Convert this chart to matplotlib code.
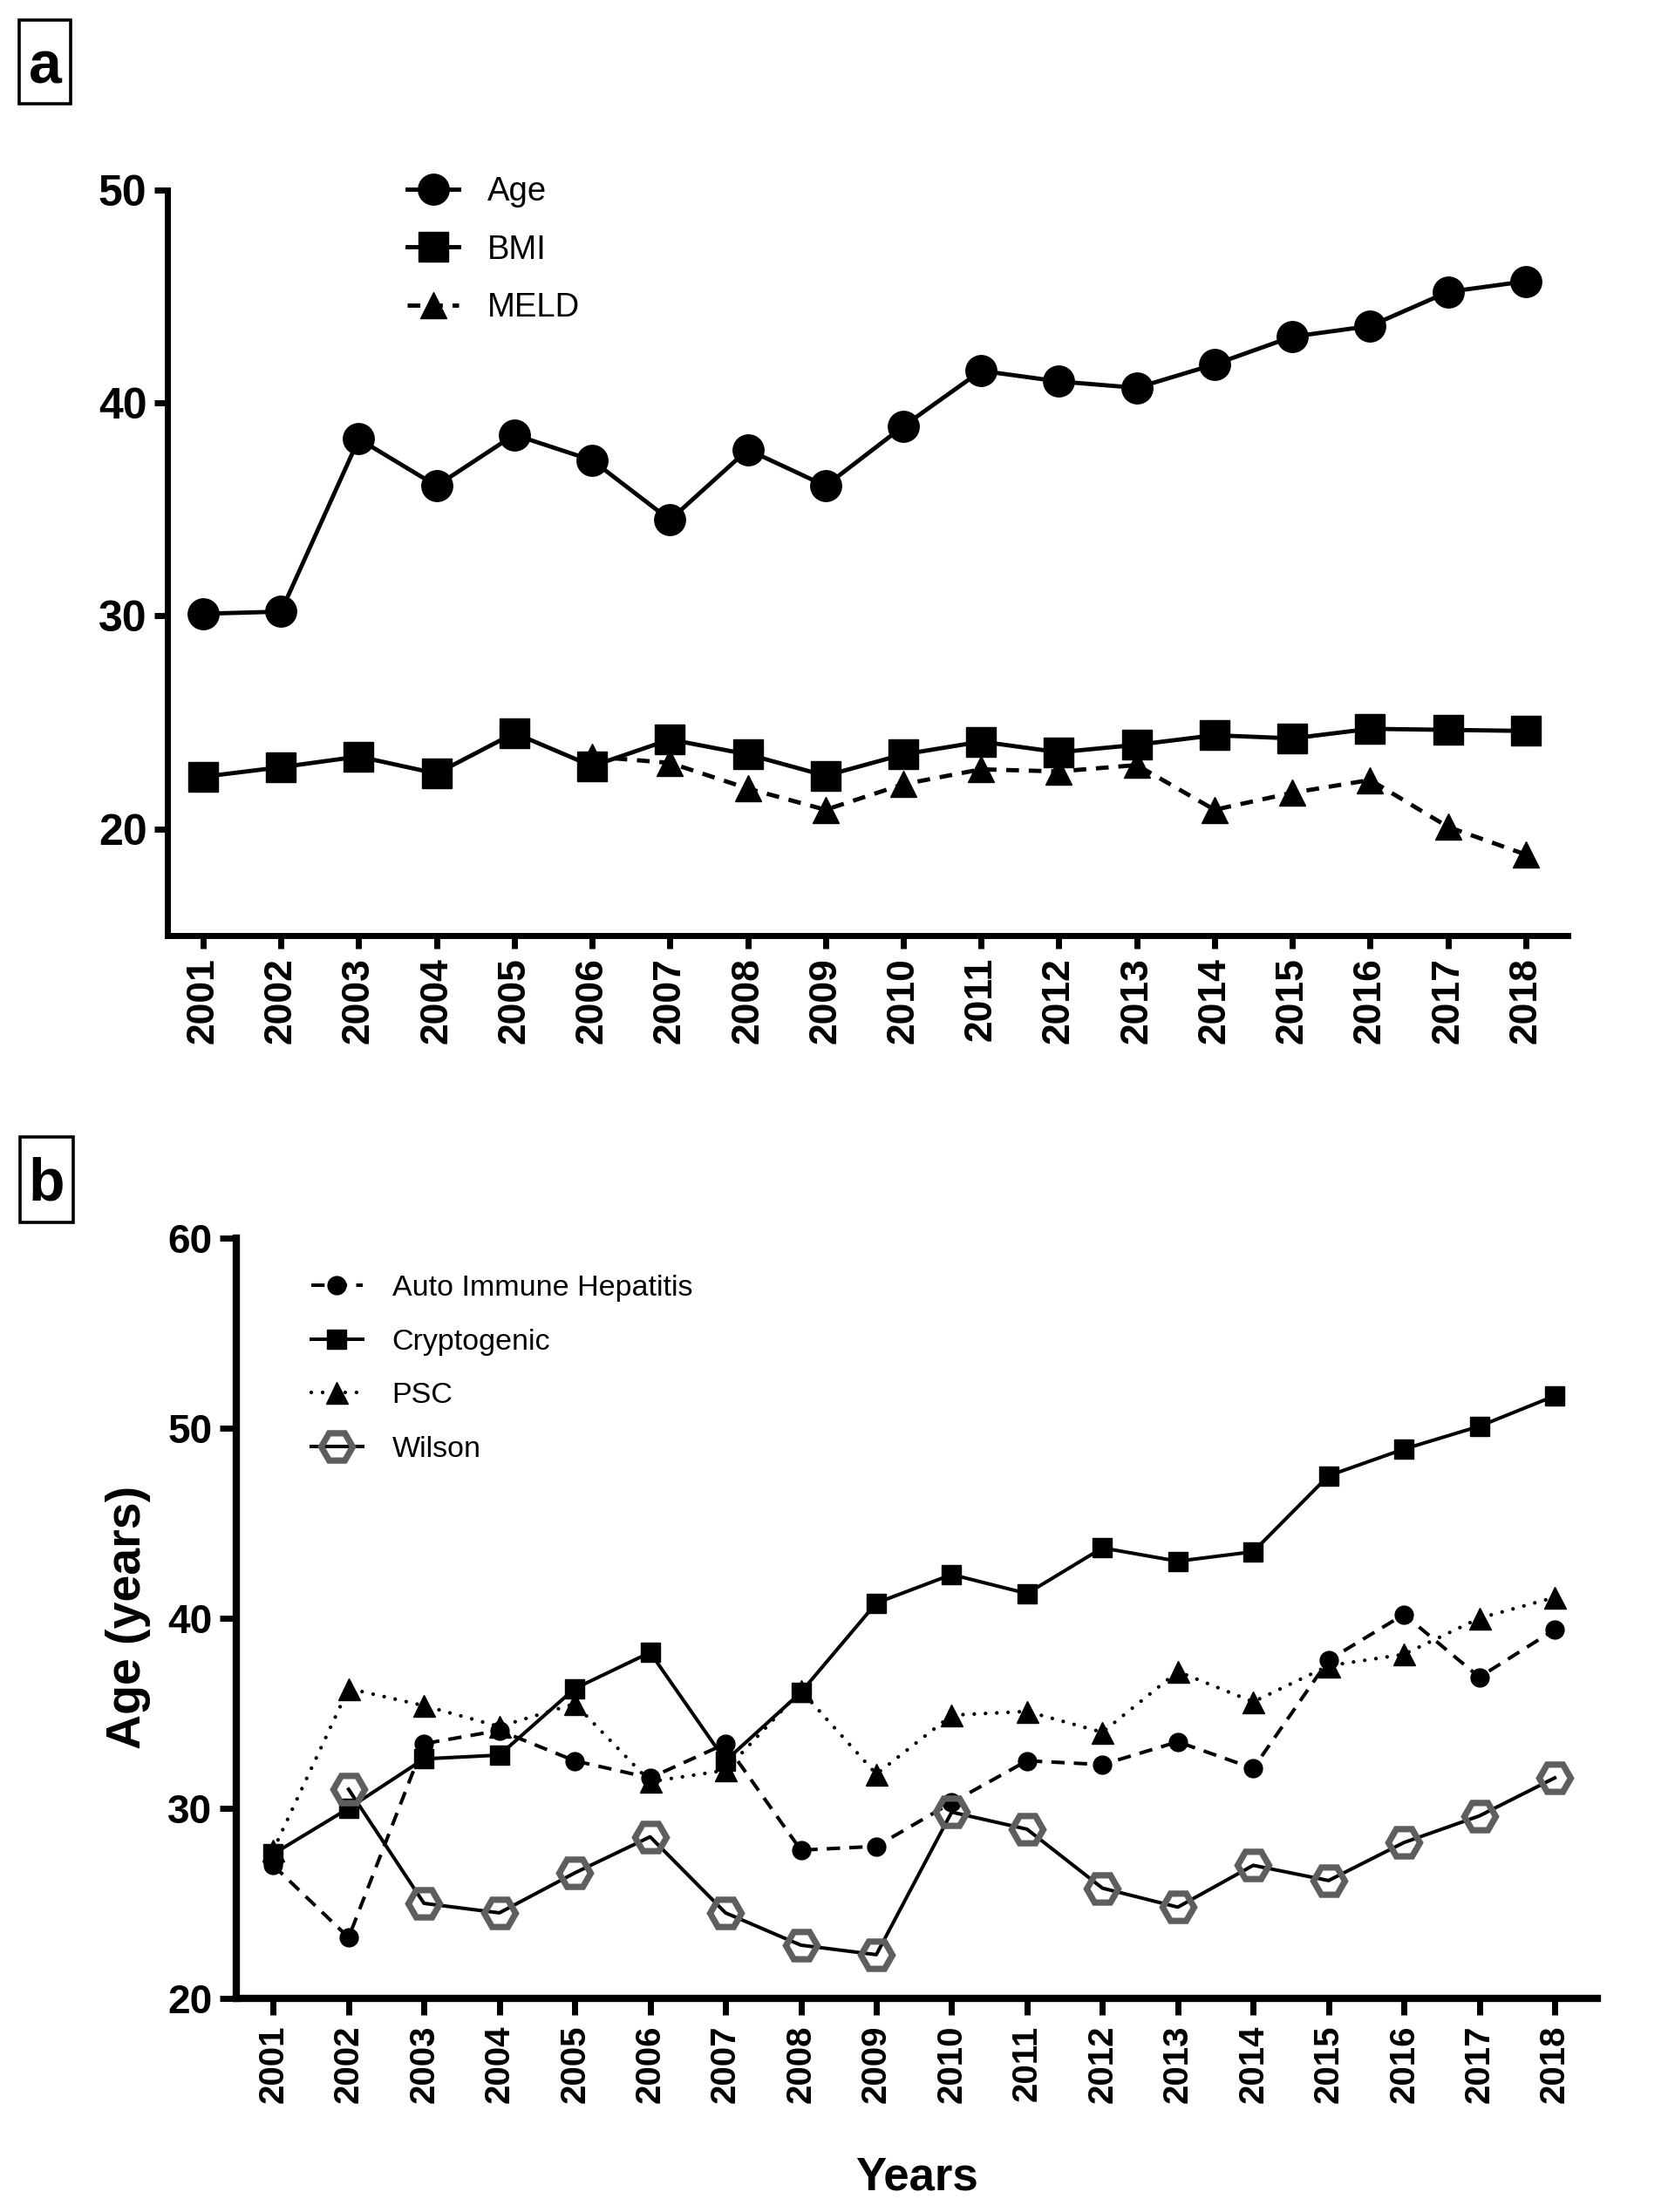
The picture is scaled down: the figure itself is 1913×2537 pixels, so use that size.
import matplotlib
matplotlib.use("Agg")
import matplotlib.pyplot as plt
from matplotlib.patches import Rectangle

plt.rcParams['font.family'] = ['Liberation Sans', 'DejaVu Sans']

years = list(range(2001, 2019))

# Panel a
age = [30.1, 30.2, 38.3, 36.1, 38.5, 37.3, 34.5, 37.8, 36.1, 38.9, 41.5, 41.0, 40.7, 41.8, 43.1, 43.6, 45.2, 45.7]
bmi = [22.45, 22.9, 23.4, 22.6, 24.5, 22.95, 24.2, 23.5, 22.5, 23.5, 24.1, 23.6, 23.95, 24.4, 24.25, 24.7, 24.65, 24.6]
meld_years = list(range(2006, 2019))
meld = [23.4, 23.1, 21.9, 20.9, 22.1, 22.8, 22.7, 23.0, 20.9, 21.7, 22.3, 20.1, 18.8]

# Panel b
aih = [27.0, 23.2, 33.4, 34.1, 32.5, 31.6, 33.4, 27.8, 28.0, 30.3, 32.5, 32.3, 33.5, 32.1, 37.8, 40.2, 36.9, 39.4]
crypto = [27.6, 30.0, 32.6, 32.8, 36.3, 38.2, 32.5, 36.1, 40.8, 42.3, 41.3, 43.7, 43.0, 43.5, 47.5, 48.9, 50.1, 51.7]
psc = [27.8, 36.3, 35.4, 34.3, 35.5, 31.4, 32.0, 36.2, 31.8, 34.9, 35.1, 34.0, 37.2, 35.6, 37.5, 38.1, 40.0, 41.1]
wilson_years = list(range(2002, 2019))
wilson = [31.0, 25.0, 24.5, 26.6, 28.5, 24.5, 22.8, 22.3, 29.8, 28.9, 25.8, 24.8, 27.0, 26.2, 28.2, 29.6, 31.6]

W, H = 1913, 2537
fig = plt.figure(figsize=(W / 100, H / 100), dpi=100)

def frac_box(x0, y0, x1, y1):
    return [x0 / W, 1 - y1 / H, (x1 - x0) / W, (y1 - y0) / H]

def style_axes(ax, spw, tlen, tw, xfs, yfs, xpad, ypad):
    for s in ['top', 'right']:
        ax.spines[s].set_visible(False)
    for s in ['left', 'bottom']:
        ax.spines[s].set_linewidth(spw)
        ax.spines[s].set_capstyle('projecting')
    ax.tick_params(axis='both', length=tlen, width=tw, direction='out')
    ax.tick_params(axis='x', labelsize=xfs, pad=xpad, labelrotation=90)
    ax.tick_params(axis='y', labelsize=yfs, pad=ypad)
    for lab in ax.get_xticklabels() + ax.get_yticklabels():
        lab.set_fontweight('bold')

# ---------- Panel a ----------
axa = fig.add_axes(frac_box(192, 217.5, 1798, 1073))
axa.plot(years, age, color='black', lw=3.5, marker='o', ms=25.5, label='Age', zorder=3)
axa.plot(years, bmi, color='black', lw=3.5, marker='s', ms=24, label='BMI', zorder=3)
axa.plot(meld_years, meld, color='black', lw=3.5, marker='^', ms=22, label='MELD',
         dashes=(3.0, 2.3), zorder=2)
axa.set_xlim(2000.54, 2018.54)
axa.set_ylim(15, 50)
axa.set_xticks(years)
axa.set_xticklabels([str(y) for y in years])
axa.set_yticks([20, 30, 40, 50])
style_axes(axa, 5, 11, 5, 32, 36, 7, 6)
axa.legend(loc='upper left', bbox_to_anchor=(467 / W, 1 - 202 / H),
           bbox_transform=fig.transFigure, frameon=False, fontsize=27.5,
           handlelength=1.55, handletextpad=0.85, labelspacing=0.8,
           borderpad=0, borderaxespad=0)

# ---------- Panel b ----------
axb = fig.add_axes(frac_box(271, 1420, 1831.5, 2292))
axb.plot(years, aih, color='black', lw=2.9, marker='o', ms=15, dashes=(3.8, 2.6),
         label='Auto Immune Hepatitis', zorder=3)
axb.plot(years, crypto, color='black', lw=2.9, marker='s', ms=15.5,
         label='Cryptogenic', zorder=3)
axb.plot(years, psc, color='black', lw=3.1, marker='^', ms=18, linestyle=(0, (0.01, 3.0)),
         dash_capstyle='round', label='PSC', zorder=3)
axb.plot(wilson_years, wilson, color='black', lw=2.9, marker='H', ms=26,
         markerfacecolor='none', markeredgecolor='#5e5e5e', markeredgewidth=5.2,
         label='Wilson', zorder=4)
axb.set_xlim(2000.51, 2018.56)
axb.set_ylim(20, 60)
axb.set_xticks(years)
axb.set_xticklabels([str(y) for y in years])
axb.set_yticks([20, 30, 40, 50, 60])
style_axes(axb, 6, 14, 5, 29, 33, 8, 6)
axb.legend(loc='upper left', bbox_to_anchor=(357 / W, 1 - 1462 / H),
           bbox_transform=fig.transFigure, frameon=False, fontsize=24.5,
           handlelength=1.72, handletextpad=1.0, labelspacing=0.9,
           borderpad=0, borderaxespad=0)

fig.text(147 / W, 1 - 1855 / H, 'Age (years)', rotation=90, ha='center', va='center',
         fontsize=40, fontweight='bold')
fig.text(1051 / W, 1 - 2497 / H, 'Years', ha='center', va='center',
         fontsize=38, fontweight='bold')

# Panel letters
for (x0, y0, x1, y1, base, letter) in [(22, 23, 81, 119, 95, 'a'), (23, 1304, 84, 1402, 1377, 'b')]:
    fig.patches.append(Rectangle((x0 / W, 1 - y1 / H), (x1 - x0) / W, (y1 - y0) / H,
                                 transform=fig.transFigure, fill=False, lw=2.6,
                                 edgecolor='black'))
    fig.text((x0 + x1) / 2 / W, 1 - base / H, letter, ha='center', va='baseline',
             fontsize=49, fontweight='bold')

fig.savefig('out.png', dpi=100)
